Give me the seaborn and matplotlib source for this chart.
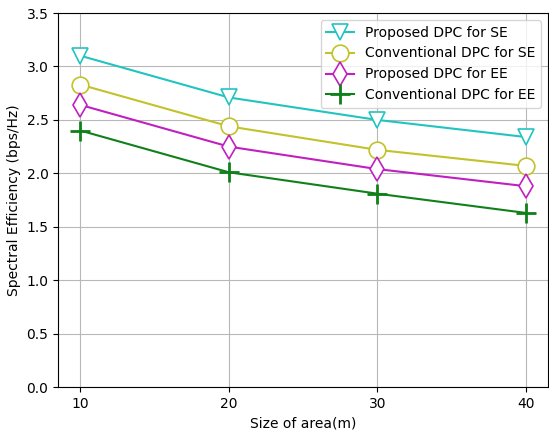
import matplotlib
matplotlib.use("Agg")
import matplotlib.pyplot as plt
import seaborn as sns
import pandas as pd

area = [10, 20, 30, 40]
proposed_se = [3.10, 2.71, 2.50, 2.34]
conventional_se = [2.83, 2.44, 2.22, 2.07]
proposed_ee = [2.64, 2.25, 2.04, 1.88]
conventional_ee = [2.40, 2.01, 1.81, 1.63]

series = [
    ("Proposed DPC for SE", proposed_se, "#22c4c0", "v"),
    ("Conventional DPC for SE", conventional_se, "#c2c22a", "o"),
    ("Proposed DPC for EE", proposed_ee, "#c020c0", "d"),
    ("Conventional DPC for EE", conventional_ee, "#10801a", "+"),
]

fig, ax = plt.subplots(figsize=(5.49, 4.34), dpi=100)
for label, vals, color, marker in series:
    df = pd.DataFrame({"x": area, "y": vals})
    kw = dict(markerfacecolor="white", markeredgecolor=color, markersize=12, markeredgewidth=1.2)
    if marker == "+":
        kw = dict(markeredgecolor=color, markersize=15, markeredgewidth=2)
    sns.lineplot(data=df, x="x", y="y", ax=ax, color=color, marker=marker,
                 label=label, linewidth=1.5, **kw)

ax.set_ylim(0, 3.5)
ax.set_xticks(area)
ax.grid(True, color="#b8b8b8")
ax.set_xlabel("Size of area(m)")
ax.set_ylabel("Spectral Efficiency (bps/Hz)")
ax.legend(loc="upper right", fontsize=10)
fig.subplots_adjust(left=0.106, right=0.998, top=0.97, bottom=0.108)
fig.savefig("out.png", dpi=100)
